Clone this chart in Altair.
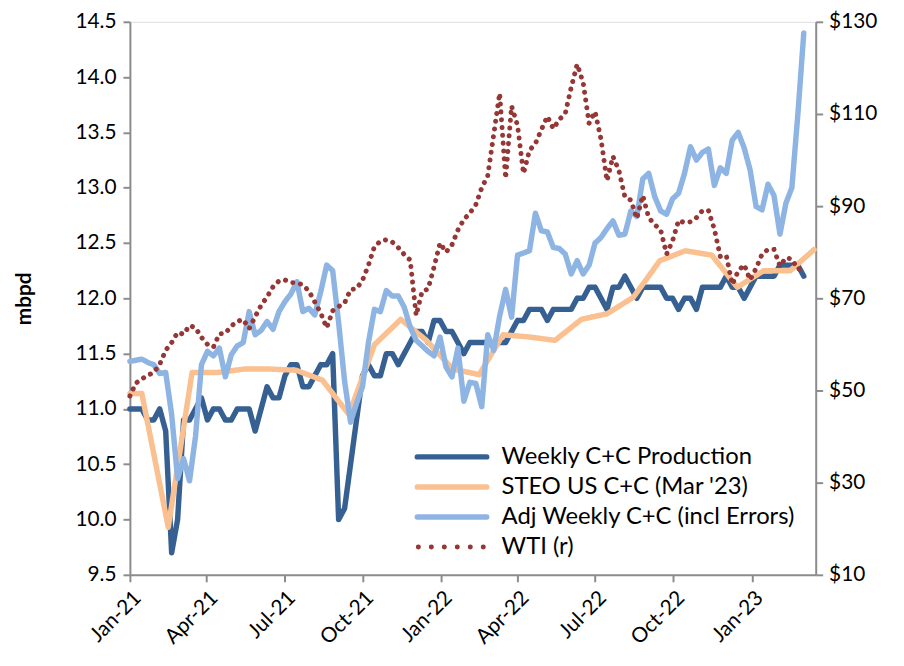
import altair as alt
import pandas as pd

# ---------------- data ----------------
week_start = "2021-01-01"
n_weeks = 114

weekly_prod = [
    11.0, 11.0, 11.0, 10.9, 10.9, 11.0, 10.8, 9.7, 10.0, 10.9, 10.9, 11.0,
    11.1, 10.9, 11.0, 11.0, 10.9, 10.9, 11.0, 11.0, 11.0, 10.8, 11.0, 11.2,
    11.1, 11.1, 11.3, 11.4, 11.4, 11.2, 11.2, 11.3, 11.4, 11.4, 11.5, 10.0,
    10.1, 10.5, 10.9, 11.3, 11.4, 11.3, 11.3, 11.5, 11.5, 11.4, 11.5, 11.6,
    11.7, 11.7, 11.6, 11.8, 11.8, 11.7, 11.7, 11.6, 11.5, 11.6, 11.6, 11.6,
    11.6, 11.6, 11.6, 11.6, 11.7, 11.8, 11.8, 11.9, 11.9, 11.9, 11.8, 11.9,
    11.9, 11.9, 11.9, 12.0, 12.0, 12.1, 12.1, 12.0, 11.9, 12.1, 12.1, 12.2,
    12.1, 12.0, 12.1, 12.1, 12.1, 12.1, 12.0, 12.0, 11.9, 12.0, 12.0, 11.9,
    12.1, 12.1, 12.1, 12.1, 12.2, 12.1, 12.1, 12.0, 12.1, 12.2, 12.2, 12.2,
    12.2, 12.3, 12.3, 12.3, 12.3, 12.2,
]

adj_weekly = [
    11.43, 11.44, 11.45, 11.42, 11.40, 11.32, 11.33, 10.95, 10.37, 10.55, 10.35, 10.75,
    11.40, 11.52, 11.48, 11.55, 11.29, 11.49, 11.57, 11.60, 11.88, 11.67, 11.71, 11.79,
    11.72, 11.88, 11.97, 12.04, 12.15, 11.88, 11.91, 11.85, 12.06, 12.30, 12.25, 11.78,
    11.25, 10.88, 11.05, 11.20, 11.60, 11.90, 11.88, 12.07, 12.02, 12.02, 11.92, 11.74,
    11.62, 11.57, 11.52, 11.48, 11.65, 11.38, 11.29, 11.55, 11.07, 11.24, 11.23, 11.02,
    11.67, 11.53, 11.84, 12.08, 11.83, 12.39, 12.41, 12.43, 12.77, 12.61, 12.60, 12.46,
    12.45, 12.40, 12.22, 12.34, 12.22, 12.30, 12.50, 12.55, 12.63, 12.70, 12.57, 12.58,
    12.79, 12.74, 13.08, 13.13, 12.92, 12.79, 12.76, 12.90, 12.95, 13.13, 13.37, 13.25,
    13.32, 13.35, 13.02, 13.18, 13.13, 13.43, 13.50, 13.36, 13.16, 12.83, 12.80, 13.03,
    12.93, 12.58, 12.86, 13.00, 13.66, 14.40,
]

wti = [
    48.8, 51.6, 52.5, 53.3, 53.9, 55.7, 58.7, 60.4, 62.6, 62.2, 64.1, 63.6,
    61.5, 60.0, 59.4, 62.3, 62.4, 64.0, 65.0, 65.4, 63.4, 66.0, 68.5, 70.3,
    72.5, 73.8, 74.0, 73.4, 73.4, 72.9, 71.6, 69.2, 66.8, 63.6, 67.3, 68.2,
    69.0, 71.9, 72.1, 73.9, 77.2, 81.2, 82.4, 82.7, 82.2, 81.0, 79.5, 78.3,
    66.3, 71.5, 72.0, 76.8, 82.0, 80.0, 81.6, 84.8, 87.1, 88.5, 90.3, 94.0,
    96.6, 105.5, 114.5, 96.0, 111.7, 107.5, 97.1, 102.1, 103.6, 106.6, 109.5, 106.8,
    108.8, 110.1, 115.8, 120.8, 116.8, 108.0, 110.5, 104.5, 95.5, 100.8, 97.7, 92.0,
    91.3, 87.3, 92.3, 87.5, 86.0, 84.8, 79.6, 82.5, 86.9, 86.4, 86.6, 87.5,
    89.0, 89.1, 85.0, 79.1, 79.3, 73.0, 75.9, 77.3, 74.0, 76.5, 79.6, 80.6,
    80.6, 77.0, 78.8, 78.5, 76.3, 76.8,
]

steo_dates = ["2021-01-01"] + [
    f"{y}-{m:02d}-15" for y in (2021, 2022, 2023) for m in range(1, 13)
    if not (y == 2023 and m > 3)
]
steo = [
    11.14,
    11.14, 9.93, 11.33, 11.33, 11.36, 11.36, 11.35, 11.26, 10.95, 11.58, 11.81, 11.62,
    11.36, 11.31, 11.67, 11.65, 11.62, 11.81, 11.86, 12.01, 12.34, 12.43, 12.39, 12.10,
    12.25, 12.25, 12.44,
]

series_names = [
    "Weekly C+C Production",
    "STEO US C+C (Mar '23)",
    "Adj Weekly C+C (incl Errors)",
    "WTI (r)",
]
series_colors = ["#376092", "#FAC090", "#8EB4E3", "#953735"]
series_dash = [[1, 0], [1, 0], [1, 0], [0.1, 7.8]]

x_tick_dates = ["2021-01-01", "2021-04-01", "2021-07-01", "2021-10-01", "2022-01-01",
                "2022-04-01", "2022-07-01", "2022-10-01", "2023-01-01"]
x_domain = ["2021-01-01", "2023-03-17"]
left_ticks = [9.5, 10.0, 10.5, 11.0, 11.5, 12.0, 12.5, 13.0, 13.5, 14.0, 14.5]
right_ticks = [10, 30, 50, 70, 90, 110, 130]

# ---------------- frames ----------------
def iso(d):
    return pd.Timestamp(d).strftime("%Y-%m-%dT%H:%M:%SZ")

def ms(d):
    return int(pd.Timestamp(d, tz="UTC").value // 10**6)

weeks = [iso(d) for d in pd.date_range(week_start, periods=n_weeks, freq="7D")]
df_prod = pd.DataFrame({"date": weeks, "value": weekly_prod, "series": series_names[0]})
df_steo = pd.DataFrame({"date": [iso(d) for d in steo_dates], "value": steo, "series": series_names[1]})
df_adj = pd.DataFrame({"date": weeks, "value": adj_weekly, "series": series_names[2]})
df_wti = pd.DataFrame({"date": weeks, "value": wti, "series": series_names[3]})
df_leg = pd.DataFrame({"series": series_names, "row": list(range(len(series_names)))})

FONT = "Lato"
AXIS_GRAY = "#8C8C8C"

x_enc = alt.X(
    "date:T",
    scale=alt.Scale(type="utc", domain=[ms(d) for d in x_domain], nice=False),
    axis=alt.Axis(
        values=[ms(d) for d in x_tick_dates],
        format="%b-%y",
        labelAngle=-45,
        labelFontSize=21,
        labelFont=FONT,
        labelColor="#000000",
        domainColor=AXIS_GRAY,
        domainWidth=2,
        tickColor=AXIS_GRAY,
        tickWidth=2,
        tickSize=7,
        labelPadding=5,
        grid=False,
        title=None,
    ),
)

left_axis = alt.Axis(
    values=left_ticks,
    format=".1f",
    labelFontSize=21,
    labelFont=FONT,
    labelColor="#000000",
    domainColor=AXIS_GRAY,
    domainWidth=2,
    tickColor=AXIS_GRAY,
    tickWidth=2,
    tickSize=7,
    labelPadding=7,
    grid=False,
    title="mbpd",
    titleFont=FONT,
    titleFontSize=21,
    titleFontWeight="bold",
    titleColor="#000000",
    titlePadding=41,
)
left_scale = alt.Scale(domain=[9.5, 14.5], nice=False, zero=False)

color_enc = alt.Color(
    "series:N",
    scale=alt.Scale(domain=series_names, range=series_colors),
    legend=None,
)
dash_enc = alt.StrokeDash(
    "series:N",
    scale=alt.Scale(domain=series_names, range=series_dash),
    legend=None,
)

def left_layer(df):
    return alt.Chart(df).mark_line(strokeWidth=5.5, strokeJoin="round", strokeCap="round").encode(
        x=x_enc,
        y=alt.Y("value:Q", scale=left_scale, axis=left_axis),
        color=color_enc,
        strokeDash=dash_enc,
    )

left = alt.layer(left_layer(df_prod), left_layer(df_steo), left_layer(df_adj))

right = alt.Chart(df_wti).mark_line(strokeWidth=5, strokeCap="round").encode(
    x=x_enc,
    y=alt.Y(
        "value:Q",
        scale=alt.Scale(domain=[10, 130], nice=False, zero=False),
        axis=alt.Axis(
            orient="right",
            values=right_ticks,
            format="$.0f",
            labelFontSize=21,
            labelFont=FONT,
            labelColor="#000000",
            domainColor=AXIS_GRAY,
            domainWidth=2,
            tickColor=AXIS_GRAY,
            tickWidth=2,
            tickSize=7,
            labelPadding=6,
            grid=False,
            title=None,
        ),
    ),
    color=color_enc,
    strokeDash=dash_enc,
)

# ---------------- in-plot legend ----------------
leg_y = alt.Y("row:Q", scale=alt.Scale(domain=[0, 3], range=[439, 530]), axis=None)
leg_solid = alt.Chart(df_leg).transform_filter(alt.datum.row < 3).mark_rule(
    strokeWidth=5.5, strokeCap="round"
).encode(x=alt.value(290), x2=alt.value(360), y=leg_y, color=color_enc)
leg_dot = alt.Chart(df_leg).transform_filter(alt.datum.row == 3).mark_rule(
    strokeWidth=5, strokeCap="round", strokeDash=[0.1, 13]
).encode(x=alt.value(291), x2=alt.value(360), y=leg_y, color=color_enc)
leg_text = alt.Chart(df_leg).mark_text(
    align="left", baseline="middle", font=FONT, fontSize=24, color="#000000"
).encode(x=alt.value(375), y=leg_y, text="series:N")

chart = (
    alt.layer(left, right, leg_solid, leg_dot, leg_text)
    .resolve_scale(y="independent")
    .properties(
        width=692,
        height=558,
        autosize=alt.AutoSizeParams(type="none"),
        padding={"left": 123, "top": 11, "right": 81, "bottom": 81},
    )
    .configure_view(stroke=None)
    .configure(background="white")
)

chart.save("out.html", embed_options={"renderer": "svg", "actions": False})
